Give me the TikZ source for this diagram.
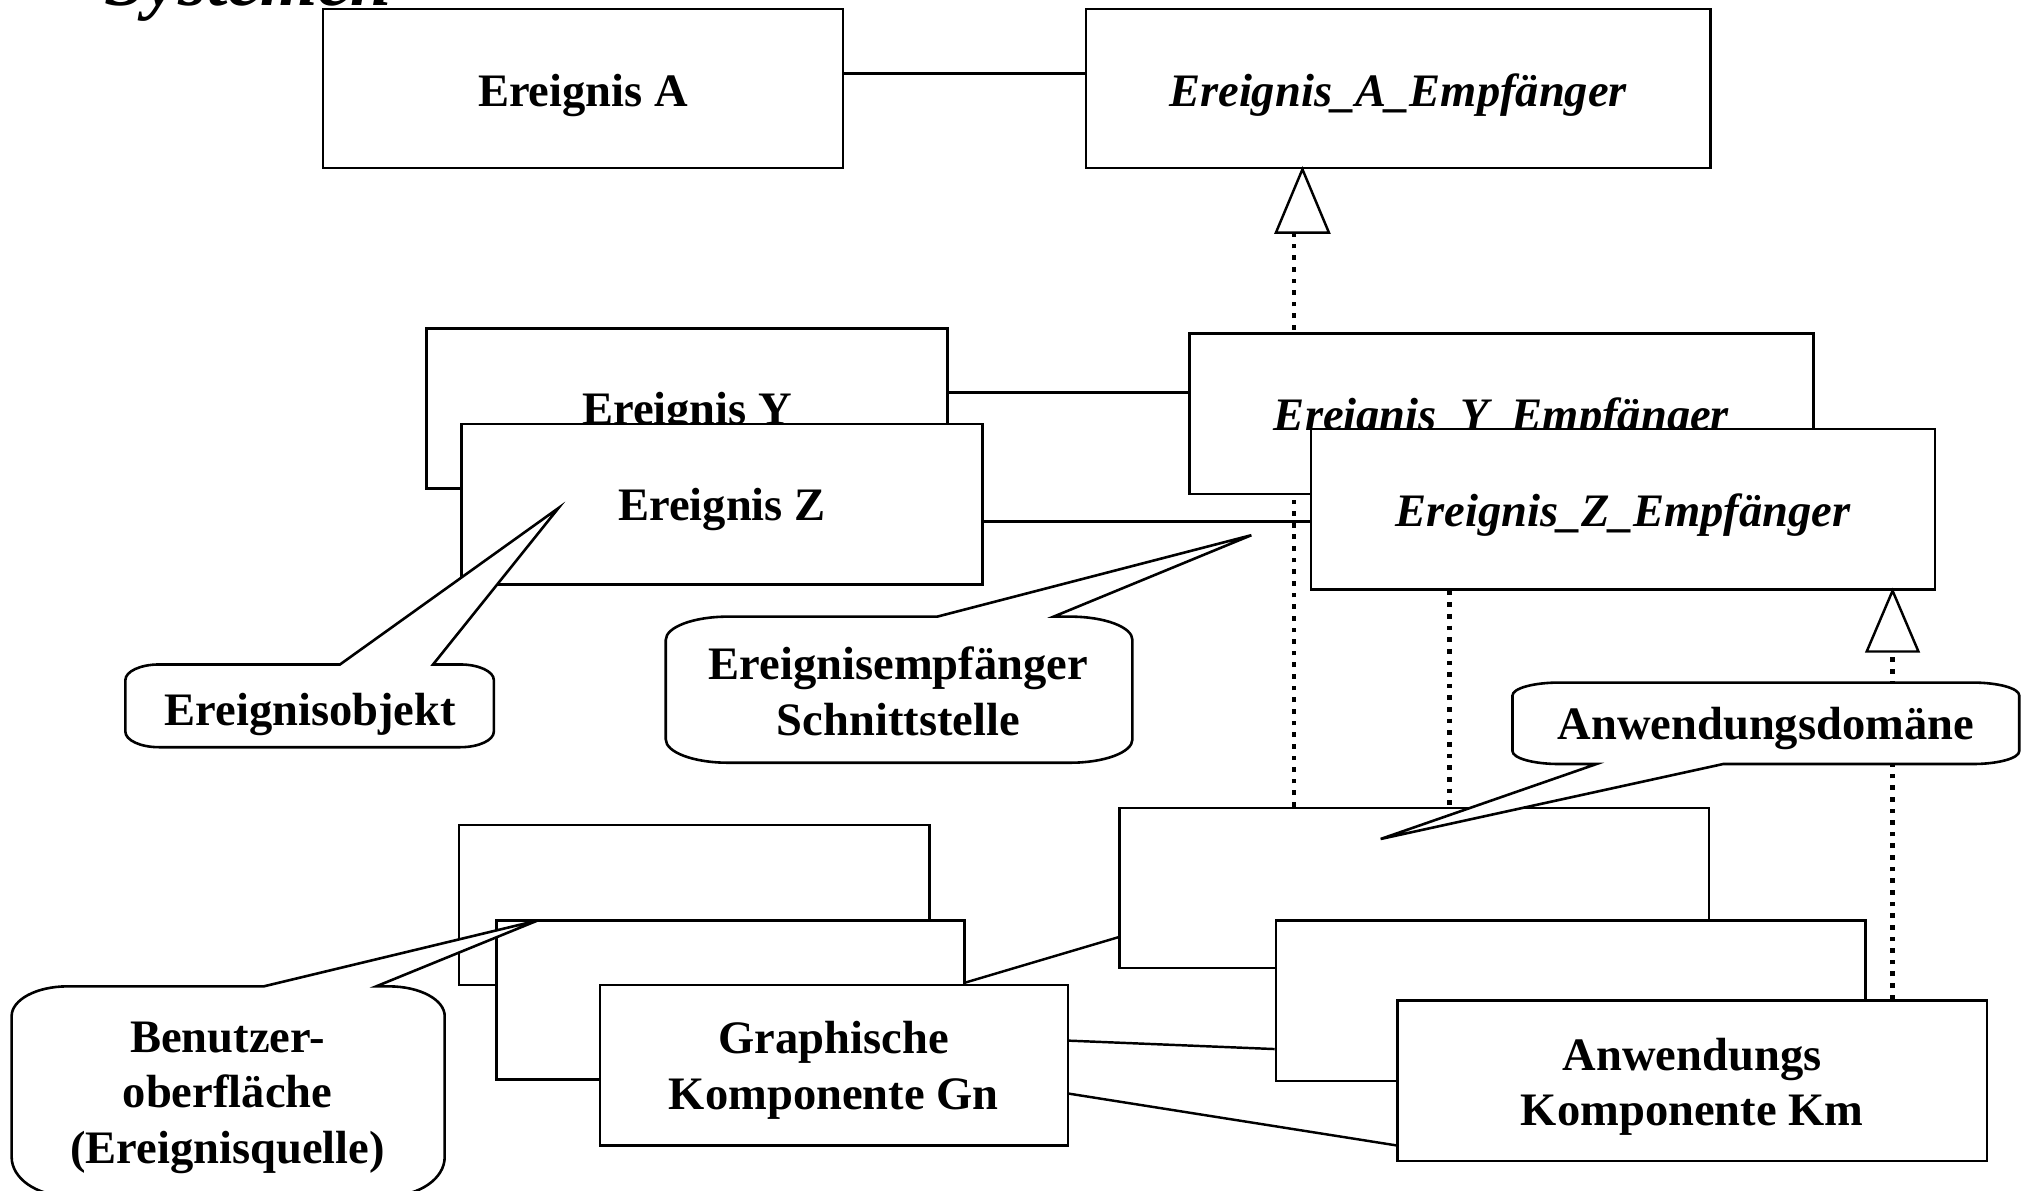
\documentclass[tikz,border=0pt]{standalone}
\usepackage{fontspec}
\setmainfont{Liberation Serif}
\usetikzlibrary{calc}
\pgfdeclarelayer{wires}
\pgfsetlayers{wires,main}

% centred multi-line label whose baseline is that of its first line
\newcommand\twolines[1]{\begin{tabular}[t]{@{}c@{}}#1\end{tabular}}

\tikzset{
  box/.style 2 args={draw, line width=1.9pt, fill=white, inner sep=0pt,
    minimum width=#1pt, minimum height=#2pt},
  txt/.style={font=\bfseries\fontsize{36}{43}\selectfont, anchor=base, inner sep=0pt},
  itxt/.style={font=\bfseries\itshape\fontsize{36}{43}\selectfont, anchor=base, inner sep=0pt},
  link/.style={line width=1.9pt},
  realize/.style={line width=3.8pt, dash pattern=on 3.6pt off 5.4pt},
  tri/.style={draw, line width=1.9pt, fill=white, line join=miter},
  bubble/.style={draw, line width=2pt, fill=white, line join=miter},
}

\begin{document}
\begin{tikzpicture}[x=1pt, y=-1pt]
\useasboundingbox (0,0) rectangle (1568,921);
\clip (0,0) rectangle (1568,921);

% heading, only its lower edge lies inside the frame
\node[anchor=base west, inner sep=0pt,
      font=\bfseries\itshape\fontsize{57}{60}\selectfont] (title) at (81,4) {Systemen};

% event A and its listener
\node[box={402}{123}] (EA) at (451,68.5) {};
\node[txt] (EA-t) at (451,82) {Ereignis A};
\node[box={483}{123}] (EAE) at (1081.5,68.5) {};
\node[itxt] (EAE-t) at (1081.5,82) {Ereignis\_A\_Empfänger};

% event Y / Z and their listeners
\node[box={403}{124}] (EY) at (531.5,316) {};
\node[txt] (EY-t) at (531.5,328) {Ereignis Y};
\node[box={483}{124}] (EYE) at (1161.5,320) {};
\node[itxt] (EYE-t) at (1161.5,333) {Ereignis\_Y\_Empfänger};
\node[box={403}{124}] (EZ) at (558.5,390) {};
\node[txt] (EZ-t) at (558.5,403) {Ereignis Z};
\node[box={483}{124}] (EZE) at (1255.5,394) {};
\node[itxt] (EZE-t) at (1255.5,407) {Ereignis\_Z\_Empfänger};

% graphical components
\node[box={364}{124}] (UI1) at (537,700) {};
\node[box={362}{123}] (UI2) at (565,773.5) {};
\node[box={362}{124}] (UI3) at (645,824) {};
\node[txt] (UI3-t) at (645,815) {\twolines{Graphische\\Komponente Gn}};

% application components
\node[box={456}{124}] (AppA) at (1094,687) {};
\node[box={456}{124}] (AppB) at (1215,774) {};
\node[box={456}{124}] (AppC) at (1309,836) {};
\node[txt] (AppC-t) at (1309,828) {\twolines{Anwendungs\\Komponente Km}};

% realization arrowheads
\coordinate (tri1tip) at (EAE.south -| 1007.5,0);
\coordinate (tri1base) at (1001,180);
\draw[tri] (tri1tip) -- ++(-20.5,49) -- ++(41,0) -- cycle;
\coordinate (tri2tip) at (EZE.south -| 1464,0);
\coordinate (tri2base) at (1464,502);
\draw[tri] (tri2tip) -- ++(-20,47) -- ++(40,0) -- cycle;

% callouts
\draw[bubble] (97,526) .. controls (97,519.4) and (108.6,514) .. (123,514)
  -- (263,514) -- (432,393) -- (335,514) -- (356,514)
  .. controls (370.4,514) and (382,519.4) .. (382,526) -- (382,566)
  .. controls (382,572.6) and (370.4,578) .. (356,578) -- (123,578)
  .. controls (108.6,578) and (97,572.6) .. (97,566) -- cycle;
\node[txt] (obj-t) at (240,561) {Ereignisobjekt};

\draw[bubble] (515,495) .. controls (515,485.1) and (536.5,477) .. (563,477)
  -- (725,477) -- (968,414) -- (815,477) -- (828,477)
  .. controls (854.5,477) and (876,485.1) .. (876,495) -- (876,572)
  .. controls (876,581.9) and (854.5,590) .. (828,590) -- (563,590)
  .. controls (536.5,590) and (515,581.9) .. (515,572) -- cycle;
\node[txt] (iface-t) at (695,526) {\twolines{Ereignisempfänger\\Schnittstelle}};

\draw[bubble] (1170,538) .. controls (1170,532.5) and (1186.1,528) .. (1206,528)
  -- (1526,528) .. controls (1545.9,528) and (1562,532.5) .. (1562,538)
  -- (1562,581) .. controls (1562,586.5) and (1545.9,591) .. (1526,591)
  -- (1333,591) -- (1068,649) -- (1235,591) -- (1206,591)
  .. controls (1186.1,591) and (1170,586.5) .. (1170,581) -- cycle;
\node[txt] (dom-t) at (1366,572) {Anwendungsdomäne};

\draw[bubble] (9,786) .. controls (9,773.3) and (28.3,763) .. (52,763)
  -- (204,763) -- (416,712) -- (291,763) -- (301,763)
  .. controls (324.7,763) and (344,773.3) .. (344,786) -- (344,895)
  .. controls (344,911.6) and (324.7,925) .. (301,925) -- (52,925)
  .. controls (28.3,925) and (9,911.6) .. (9,895) -- cycle;
\node[txt] (ui-t) at (176,814) {\twolines{Benutzer-\\oberfläche\\(Ereignisquelle)}};

% connectors, drawn beneath the boxes
\begin{pgfonlayer}{wires}
\fill[white] (0,0) rectangle (1568,921);
\draw[link] (EA.east |- 0,57) -- (EAE.west |- 0,57);
\draw[link] (EY.east |- 0,303.5) -- (EYE.west |- 0,303.5);
\draw[link] (EZ.east |- 0,403.5) -- (EZE.west |- 0,403.5);
\draw[link] (UI2.east |- 0,760) -- (AppA.west |- 0,725);
\draw[link] (UI3.east |- 0,805) -- (AppB.west |- 0,811.5);
\draw[link] (UI3.east |- 0,846) -- (AppC.west |- 0,886);
\draw[realize] (AppA.north -| 1001,0) -- (tri1base);
\draw[realize] (EZE.south -| 1121,0) -- (AppA.north -| 1121,0);
\draw[realize] (AppC.north -| 1464,0) -- (tri2base);
\end{pgfonlayer}
\end{tikzpicture}
\end{document}
